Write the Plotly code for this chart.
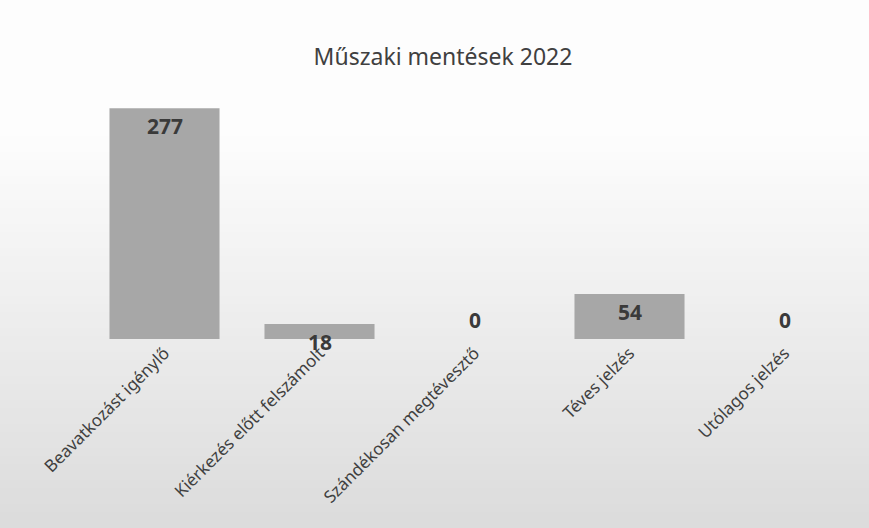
import plotly.graph_objects as go

categories = ["Beavatkozást igénylő", "Kiérkezés előtt felszámolt", "Szándékosan megtévesztő",
              "Téves jelzés", "Utólagos jelzés"]
values = [277, 18, 0, 54, 0]
title_text = "Műszaki mentések 2022"

W, H = 869, 528
ml, mr, mt, mb = 87, 7, 89, 189
pw, ph = W - ml - mr, H - mt - mb

fig = go.Figure()
fig.add_trace(go.Bar(x=categories, y=values, marker=dict(color="#a7a7a7", line=dict(width=0)),
                     width=0.71, hoverinfo="x+y"))

# background gradient bands (style only)
shapes = []
step = 8
for yp in range(0, H, step):
    t = max(0.0, (yp - 130) / (H - 130))
    g = int(round(253 - t * (253 - 219)))
    col = f"rgb({g},{g},{g})"
    y0 = (H - mb - (yp + step + 1)) / ph
    y1 = (H - mb - yp) / ph
    shapes.append(dict(type="rect", xref="paper", yref="paper", x0=-ml / pw, x1=(W - ml) / pw,
                       y0=y0, y1=y1, fillcolor=col, line=dict(width=0), layer="below"))

annotations = []
for c, v in zip(categories, values):
    annotations.append(dict(x=c, y=v, xref="x", yref="y", text=f"<b>{v}</b>", showarrow=False,
                            yshift=(-18 if v > 0 else 19),
                            font=dict(family="Noto Sans", size=21, color="#3a3a3a")))

fig.update_layout(
    width=W, height=H,
    margin=dict(l=ml, r=mr, t=mt, b=mb),
    paper_bgcolor="white", plot_bgcolor="rgba(0,0,0,0)",
    title=dict(text=title_text, x=443 / W, xanchor="center", y=1 - 57 / H, yanchor="middle",
               font=dict(family="Noto Sans", size=23, color="#404040")),
    xaxis=dict(tickangle=-45, showgrid=False, showline=False, ticks="",
               tickfont=dict(family="Noto Sans", size=17, color="#404040")),
    yaxis=dict(range=[0, 300], visible=False, showgrid=False),
    shapes=shapes, annotations=annotations, showlegend=False, bargap=0.29,
)
fig.write_html("out.html", config={"displayModeBar": False},
               post_script="document.body.style.margin='0';document.body.style.overflow='hidden';")
